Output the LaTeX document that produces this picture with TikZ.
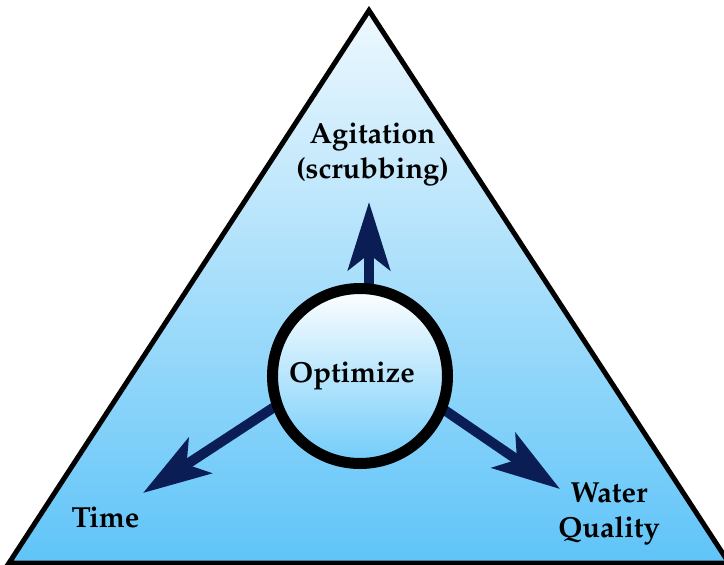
\documentclass[tikz,border=0pt]{standalone}
\usepackage[T1]{fontenc}
\usepackage{mathpazo}
\usetikzlibrary{arrows.meta}
\definecolor{skytop}{RGB}{238,248,254}
\definecolor{skybottom}{RGB}{95,196,248}
\definecolor{discbottom}{RGB}{112,204,250}
\definecolor{navy}{RGB}{10,29,84}
\begin{document}
\begin{tikzpicture}[x=1pt,y=-1pt,
  factor/.style={font=\fontsize{29}{35}\selectfont\bfseries, align=center, inner sep=0pt, anchor=base},
  pointer/.style={draw=navy, line width=10pt,
    -{Stealth[length=68pt,width=42pt,inset=16pt]}},
  hub/.style={circle, draw=black, line width=11pt, minimum size=175pt, inner sep=0pt,
    top color=white, bottom color=discbottom}]
\path[use as bounding box] (0,0) rectangle (724,565);
\clip (0,0) rectangle (724,565);

% outer triangle
\coordinate (apex) at (369,10.5);
\coordinate (bl) at (9,563);
\coordinate (br) at (729,563);
\shade[top color=skytop, bottom color=skybottom] (apex) -- (bl) -- (br) -- cycle;
\draw[line width=5pt, line join=miter] (apex) -- (bl) -- (br) -- cycle;

% arrows leaving the central disc
\coordinate (upstart) at (369,300);
\coordinate (uptip) at (369,202);
\coordinate (leftstart) at (282,402);
\coordinate (lefttip) at (143,493);
\coordinate (rightstart) at (440,407);
\coordinate (righttip) at (560,489);
\draw[pointer] (upstart) -- (uptip);
\draw[pointer] (leftstart) -- (lefttip);
\draw[pointer] (rightstart) -- (righttip);

% central disc
\node[hub] (hub) at (360,376) {};
\node[factor] (optimize) at (352,382) {Optimize};

% labels (base anchor sits on the last line)
\node[factor] (agitation) at (372.5,178) {Agitation\\(scrubbing)};
\node[factor] (time) at (105.5,527) {Time};
\node[factor] (water) at (609,537) {Water\\Quality};
\end{tikzpicture}
\end{document}
